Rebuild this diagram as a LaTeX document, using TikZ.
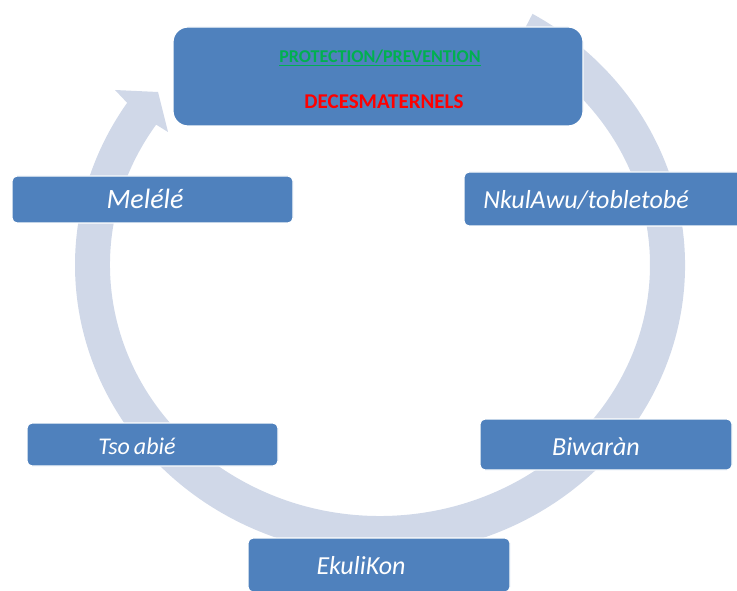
\documentclass[tikz,border=0pt]{standalone}
\usepackage{fontspec}
\setmainfont{Carlito}
\definecolor{ringgray}{RGB}{208,216,232}
\definecolor{boxblue}{RGB}{79,129,189}
\definecolor{protgreen}{RGB}{0,176,80}

\begin{document}
\begin{tikzpicture}[%
      x=1pt, y=1pt,
      stagebox/.style={rectangle, fill=boxblue, draw=white, line width=1.2pt,
        rounded corners=5pt, inner sep=0pt},
      stagetext/.style={anchor=base, text=white, inner sep=0pt,
        font=\itshape\fontsize{26}{30}\selectfont},
      ]
      \useasboundingbox (0,0) rectangle (737,590);
      \clip (0,0) rectangle (737,590);

      % cycle ring with its arrow head
      \coordinate (ctr) at (380,325);
      \coordinate (barbout) at (115,500);
      \coordinate (tip) at (158,498);
      \coordinate (barbin) at (168,458);
      \fill [ringgray] ([shift={(60:305 and 290)}]ctr)
        arc [start angle=60, end angle=-214, x radius=305, y radius=290]
        -- (barbout) -- (tip) -- (barbin)
        -- ([shift={(-214:270 and 251)}]ctr)
        arc [start angle=-214, end angle=60, x radius=270, y radius=251]
        -- cycle;

      % stages
      \node [stagebox, rounded corners=15pt, minimum width=410pt, minimum height=99pt] (top) at (378,513.5) {};
      \node [stagebox, minimum width=281pt, minimum height=47pt] (melele) at (152.5,390.5) {};
      \node [stagebox, minimum width=281pt, minimum height=54pt] (nkul) at (604.5,391) {};
      \node [stagebox, minimum width=251pt, minimum height=43pt] (tsoabie) at (152.5,145.5) {};
      \node [stagebox, minimum width=252pt, minimum height=51pt] (biwaran) at (606,145.5) {};
      \node [stagebox, minimum width=262pt, minimum height=54pt] (ekulikon) at (379,25) {};

      \node [anchor=base, inner sep=0pt, text=protgreen, font=\bfseries\fontsize{18}{22}\selectfont] (prot) at (380,527) {\underline{PROTECTION/PREVENTION}};
      \node [anchor=base, inner sep=0pt, text=red, font=\bfseries\fontsize{21}{25}\selectfont] (deces) at (384,481) {DECESMATERNELS};
      \node [stagetext, font=\itshape\fontsize{28}{32}\selectfont] (tmelele) at (145,381) {Melélé};
      \node [stagetext] (tnkul) at (586,381) {NkulAwu/tobletobé};
      \node [stagetext, font=\itshape\fontsize{24}{28}\selectfont] (ttsoabie) at (137,136) {Tso\,abié};
      \node [stagetext] (tbiwaran) at (596,135) {Biwaràn};
      \node [stagetext] (tekulikon) at (361,16) {EkuliKon};
      \end{tikzpicture}
\end{document}
